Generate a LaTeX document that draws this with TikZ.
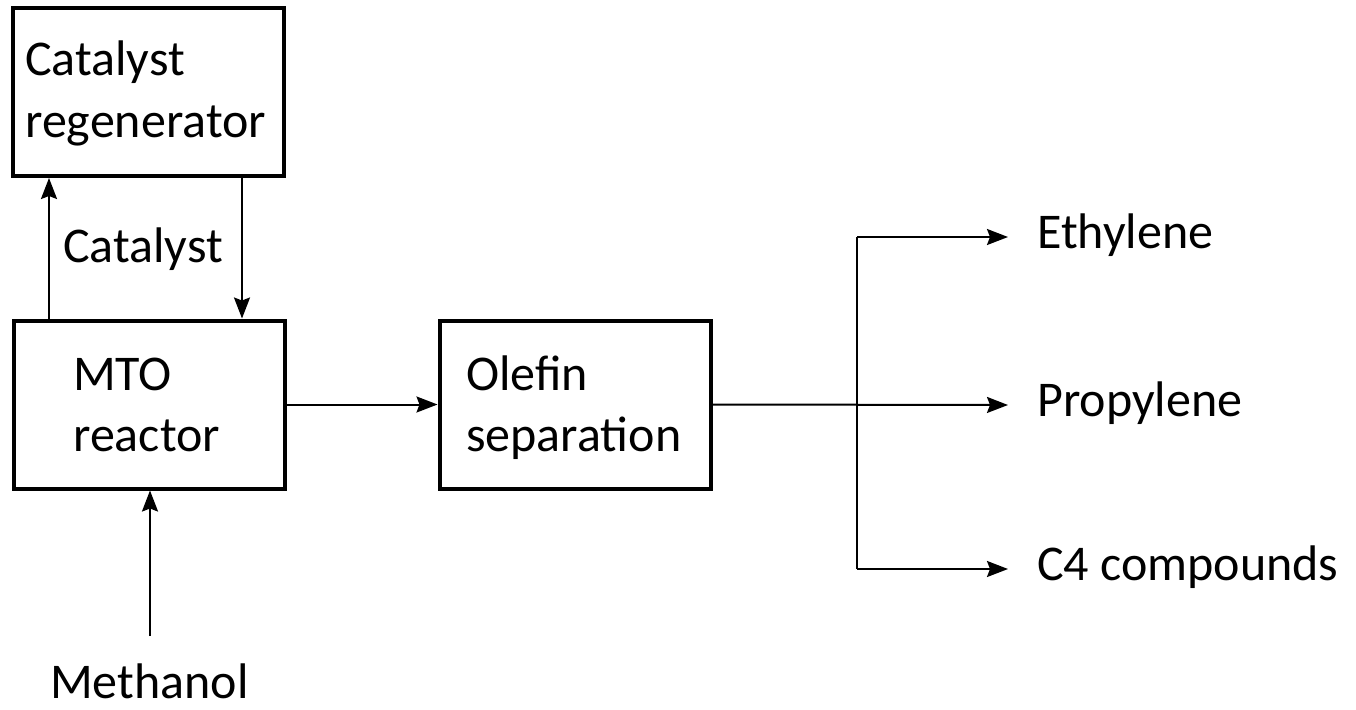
\documentclass[tikz,border=0pt]{standalone}
\usepackage{fontspec}
\setmainfont{Carlito}
\usetikzlibrary{arrows.meta}
\begin{document}
\begin{tikzpicture}[x=1pt,y=-1pt,
  box/.style={draw,line width=4pt,minimum width=271pt,minimum height=168pt,inner sep=0pt},
  conn/.style={line width=2pt,-{Stealth[length=21pt,width=16pt,inset=3pt]}},
  plain/.style={line width=2pt},
  lbl/.style={font=\fontsize{50}{61}\selectfont,inner sep=0pt,anchor=base west}]
\useasboundingbox (0,0) rectangle (1356,709);
\node[box] (reg) at (148.5,92) {};
\node[box] (mto) at (149,404.5) {};
\node[box] (ole) at (575,404.5) {};
% texts in boxes
\node[lbl] (t1) at (25,75) {Catalyst};
\node[lbl] (t2) at (25,137) {regenerator};
\node[lbl] (t3) at (73,390) {MTO};
\node[lbl] (t4) at (73,451) {reactor};
\node[lbl] (t5) at (466,390) {Olefin};
\node[lbl] (t6) at (466,451) {separation};
\node[lbl] (cat) at (63,262) {Catalyst};
\node[lbl] (meth) at (50,698) {Methanol};
\node[lbl] (eth) at (1037,248) {Ethylene};
\node[lbl] (pro) at (1037,416) {Propylene};
\node[lbl] (c4) at (1037,580) {C4 compounds};
% connectors
\coordinate (upS) at (49,320);
\coordinate (upE) at (49,178);
\draw[conn] (mto.north -| upS) -- (reg.south -| upE);
\coordinate (dn) at (242,0);
\draw[conn] (reg.south -| dn) -- (mto.north -| dn);
\draw[conn] (mto.east) -- (ole.west);
\coordinate (mS) at (150,636);
\draw[conn] (mS) -- (mto.south -| mS);
\coordinate (jt) at (857,237);
\coordinate (jb) at (857,569);
\coordinate (ee) at (1008,237);
\coordinate (pe) at (1008,405);
\coordinate (ce) at (1008,569);
\draw[conn] (ole.east) -- (pe);
\draw[plain] (jt) -- (jb);
\draw[conn] (jt) -- (ee);
\draw[conn] (jb) -- (ce);
\end{tikzpicture}
\end{document}
